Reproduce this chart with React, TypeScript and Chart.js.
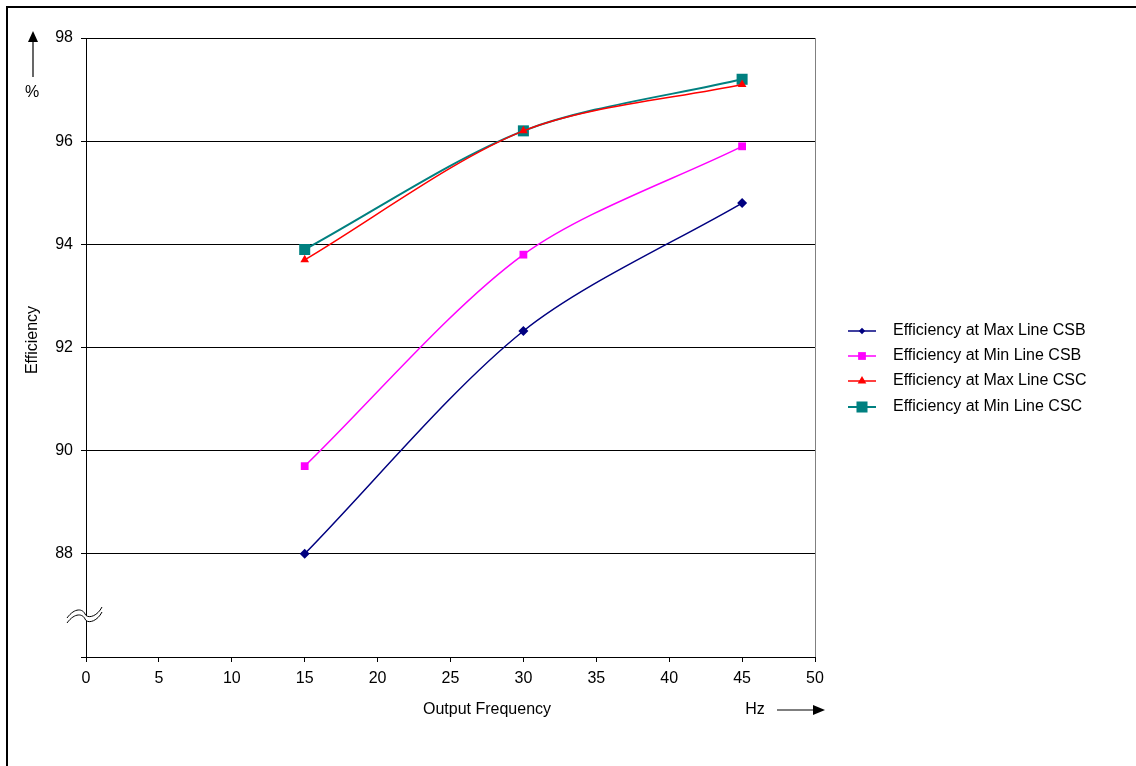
import React, { useEffect, useRef } from "react";
import { Chart, registerables } from "chart.js";

Chart.register(...registerables);

const xValues = [15, 30, 45];
const maxLineCSB = [88.0, 92.32, 94.8];
const minLineCSB = [89.7, 93.8, 95.9];
const maxLineCSC = [93.7, 96.2, 97.1];
const minLineCSC = [93.9, 96.2, 97.2];
const seriesLabels = [
  "Efficiency at Max Line CSB",
  "Efficiency at Min Line CSB",
  "Efficiency at Max Line CSC",
  "Efficiency at Min Line CSC",
];
const seriesColors = ["#000080", "#FF00FF", "#FF0000", "#008080"];
const seriesPoints = ["rectRot", "rect", "triangle", "rect"];
const seriesRadius = [5, 5.5, 5, 7.8];

const FONT = '"Liberation Sans", Arial, sans-serif';

function drawMarker(ctx: CanvasRenderingContext2D, style: string, x: number, y: number, r: number) {
  ctx.beginPath();
  if (style === "rect") {
    const s = Math.SQRT1_2 * r;
    ctx.rect(x - s, y - s, 2 * s, 2 * s);
  } else if (style === "rectRot") {
    const s = Math.SQRT1_2 * r;
    ctx.moveTo(x - s, y);
    ctx.lineTo(x, y - s);
    ctx.lineTo(x + s, y);
    ctx.lineTo(x, y + s);
    ctx.closePath();
  } else if (style === "triangle") {
    ctx.moveTo(x, y - r);
    ctx.lineTo(x + Math.sin(Math.PI / 3) * r, y + 0.5 * r);
    ctx.lineTo(x - Math.sin(Math.PI / 3) * r, y + 0.5 * r);
    ctx.closePath();
  }
  ctx.fill();
}

const decorPlugin = {
  id: "decor",
  afterDraw(chart: any) {
    const ctx = chart.ctx as CanvasRenderingContext2D;
    const area = chart.chartArea;
    ctx.save();
    // outer frame
    ctx.fillStyle = "#000";
    ctx.fillRect(6, 6, 1130, 2);
    ctx.fillRect(6, 6, 2, 760);
    // plot right border
    ctx.strokeStyle = "#808080";
    ctx.lineWidth = 1;
    ctx.beginPath();
    ctx.moveTo(Math.round(area.right) + 0.5, area.top);
    ctx.lineTo(Math.round(area.right) + 0.5, area.bottom);
    ctx.stroke();

    ctx.fillStyle = "#000";
    ctx.strokeStyle = "#000";
    ctx.font = "16px " + FONT;
    // y title
    ctx.save();
    ctx.translate(33, 340);
    ctx.rotate(-Math.PI / 2);
    ctx.textAlign = "center";
    ctx.textBaseline = "middle";
    ctx.fillText("Efficiency", 0, 0);
    ctx.restore();
    // up arrow
    ctx.lineWidth = 1.2;
    ctx.beginPath();
    ctx.moveTo(33, 77);
    ctx.lineTo(33, 40);
    ctx.stroke();
    ctx.beginPath();
    ctx.moveTo(33, 31);
    ctx.lineTo(28, 42);
    ctx.lineTo(38, 42);
    ctx.closePath();
    ctx.fill();
    ctx.textAlign = "center";
    ctx.textBaseline = "middle";
    ctx.fillText("%", 32, 93);
    // x title
    ctx.fillText("Output Frequency", 487, 710);
    ctx.fillText("Hz", 755, 710);
    ctx.beginPath();
    ctx.moveTo(777, 710);
    ctx.lineTo(815, 710);
    ctx.stroke();
    ctx.beginPath();
    ctx.moveTo(825, 710);
    ctx.lineTo(813, 705);
    ctx.lineTo(813, 715);
    ctx.closePath();
    ctx.fill();

    // axis break symbol
    const bx = 67, by = 612;
    const wave = (dy: number) => {
      ctx.moveTo(bx, by + dy + 6);
      ctx.bezierCurveTo(bx + 8, by + dy - 5, bx + 16, by + dy - 3, bx + 18, by + dy + 2);
      ctx.bezierCurveTo(bx + 20, by + dy + 7, bx + 30, by + dy + 5, bx + 35, by + dy - 5);
    };
    ctx.fillStyle = "#fff";
    ctx.beginPath();
    wave(0);
    ctx.lineTo(bx + 35, by + 1);
    ctx.bezierCurveTo(bx + 30, by + 10, bx + 20, by + 12, bx + 18, by + 7);
    ctx.bezierCurveTo(bx + 16, by + 2, bx + 8, by, bx, by + 11);
    ctx.closePath();
    ctx.fill();
    ctx.strokeStyle = "#000";
    ctx.lineWidth = 1;
    ctx.beginPath();
    wave(0);
    ctx.stroke();
    ctx.beginPath();
    wave(5);
    ctx.stroke();

    // legend
    const rows = [331, 356, 381, 407];
    ctx.textAlign = "left";
    ctx.textBaseline = "middle";
    ctx.font = "16px " + FONT;
    seriesLabels.forEach((label, i) => {
      const y = rows[i];
      ctx.strokeStyle = seriesColors[i];
      ctx.lineWidth = i === 3 ? 2 : 1.5;
      ctx.beginPath();
      ctx.moveTo(848, y);
      ctx.lineTo(876, y);
      ctx.stroke();
      ctx.fillStyle = seriesColors[i];
      const r = i === 3 ? 7.8 : i === 1 ? 5.5 : i === 0 ? 4.5 : 5;
      drawMarker(ctx, seriesPoints[i], 862, y, r);
      ctx.fillStyle = "#000";
      ctx.fillText(label, 893, y);
    });
    ctx.restore();
  },
};

export default function App() {
  const canvasRef = useRef<HTMLCanvasElement | null>(null);

  useEffect(() => {
    if (!canvasRef.current) return;
    const allSeries = [maxLineCSB, minLineCSB, maxLineCSC, minLineCSC];
    const chart = new Chart(canvasRef.current, {
      type: "line",
      data: {
        datasets: allSeries.map((vals, i) => ({
          label: seriesLabels[i],
          data: xValues.map((x, j) => ({ x, y: vals[j] })),
          borderColor: seriesColors[i],
          backgroundColor: seriesColors[i],
          borderWidth: i === 3 ? 2 : 1.5,
          pointStyle: seriesPoints[i] as any,
          pointRadius: seriesRadius[i],
          pointBorderWidth: 0,
          pointBackgroundColor: seriesColors[i],
          tension: 0.3,
          fill: false,
        })),
      },
      options: {
        responsive: false,
        animation: false,
        devicePixelRatio: 1,
        layout: { padding: { left: 0, right: 321, top: 38, bottom: 69 } },
        plugins: {
          legend: { display: false },
          tooltip: { enabled: false },
        },
        scales: {
          x: {
            type: "linear",
            min: 0,
            max: 50,
            afterFit: (s: any) => {
              s.height = 40;
            },
            ticks: {
              stepSize: 5,
              color: "#000",
              font: { size: 16, family: FONT },
              padding: 7,
              maxRotation: 0,
            },
            grid: {
              drawOnChartArea: false,
              drawTicks: true,
              tickLength: 5,
              color: "#000",
            },
            border: { color: "#000", width: 1 },
          },
          y: {
            type: "linear",
            min: 86,
            max: 98,
            afterFit: (s: any) => {
              s.width = 86;
            },
            ticks: {
              stepSize: 2,
              color: "#000",
              font: { size: 16, family: FONT },
              padding: 8,
              callback: (v: any) => (v === 86 ? "" : String(v)),
            },
            grid: {
              color: "#000",
              lineWidth: 1,
              tickLength: 5,
              drawTicks: true,
            },
            border: { color: "#000", width: 1 },
          },
        },
      },
      plugins: [decorPlugin],
    });
    return () => chart.destroy();
  }, []);

  return (
    <div style={{ position: "absolute", left: 0, top: 0, width: 1136, height: 766, background: "#fff" }}>
      <canvas ref={canvasRef} width={1136} height={766} style={{ width: 1136, height: 766, display: "block" }} />
    </div>
  );
}
